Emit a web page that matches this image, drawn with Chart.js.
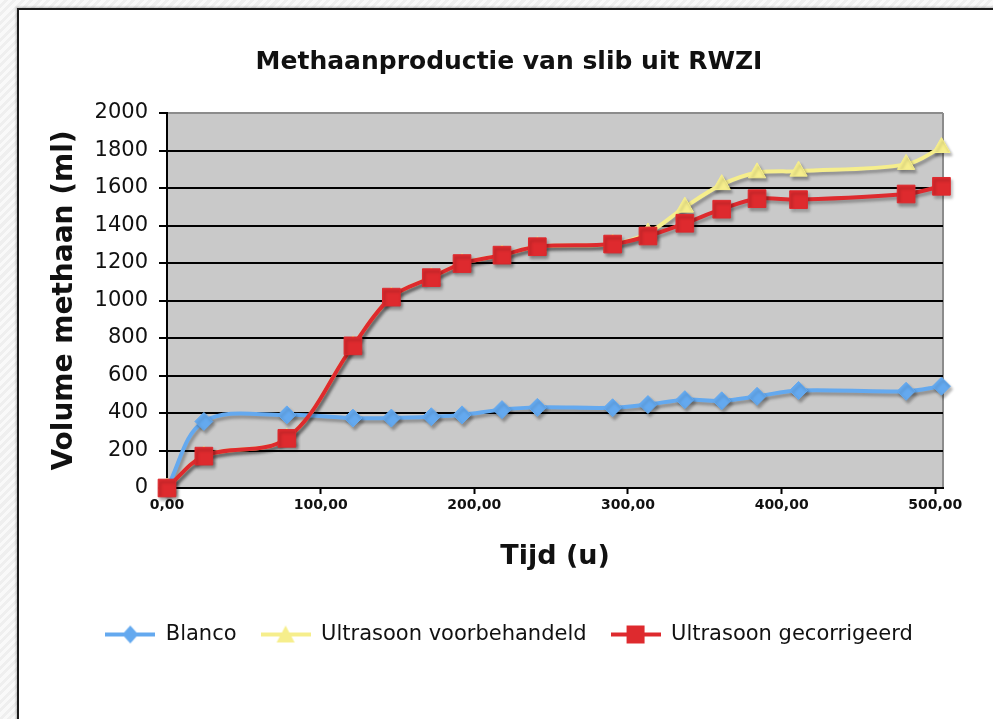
<!DOCTYPE html>
<html>
<head>
<meta charset="utf-8">
<title>Methaanproductie van slib uit RWZI</title>
<script src="https://cdn.jsdelivr.net/npm/chart.js"></script>
<style>
  html, body {
    margin: 0;
    padding: 0;
    width: 993px;
    height: 719px;
    overflow: hidden;
    background: repeating-linear-gradient(135deg, #f9f9f9 0 3px, #efefef 3px 6px);
  }
  .frame {
    position: absolute;
    left: 17px;
    top: 8px;
    width: 1000px;
    height: 800px;
    background: #fff;
    border: 2px solid #1c1c1c;
    box-shadow: -1px -1px 2px rgba(0,0,0,0.25);
  }
  #chart {
    position: absolute;
    left: 0;
    top: 0;
  }
</style>
</head>
<body>
<div class="frame"></div>
<canvas id="chart" width="993" height="719"></canvas>

<script>
// tijd in uren
const tijd = [0, 24, 78, 121, 146, 172, 192, 218, 241, 290, 313, 337, 361, 384, 411, 481, 504];

// volume methaan (ml)
const blanco = [0, 355, 390, 373, 373, 380, 390, 418, 430, 428, 445, 471, 465, 489, 520, 516, 543];
const voorbehandeld = [0, 170, 265, 758, 1018, 1122, 1197, 1242, 1287, 1301, 1360, 1498, 1618, 1681, 1690, 1726, 1816];
const gecorrigeerd = [0, 170, 265, 758, 1018, 1122, 1197, 1242, 1287, 1301, 1344, 1412, 1487, 1543, 1538, 1568, 1609];

const seriesNames = ['Blanco', 'Ultrasoon voorbehandeld', 'Ultrasoon gecorrigeerd'];
const xTicks = [0, 100, 200, 300, 400, 500];

const BLUE = '#64a9ef';
const YELLOW = '#f6ee8c';
const RED = '#de2a2e';

function toPoints(values) {
  return values.map((v, i) => ({ x: tijd[i], y: v }));
}

// kleine icoontjes voor de legenda: lijn met marker
function makeIcon(color, shape) {
  const c = document.createElement('canvas');
  c.width = 50;
  c.height = 22;
  const g = c.getContext('2d');
  g.strokeStyle = color;
  g.fillStyle = color;
  g.lineWidth = 4;
  g.beginPath();
  g.moveTo(0, 11);
  g.lineTo(50, 11);
  g.stroke();
  g.beginPath();
  if (shape === 'diamond') {
    g.moveTo(25, 2); g.lineTo(33, 11); g.lineTo(25, 20); g.lineTo(17, 11);
  } else if (shape === 'triangle') {
    g.moveTo(25, 2); g.lineTo(34, 19); g.lineTo(16, 19);
  } else {
    g.rect(16, 2, 18, 18);
  }
  g.closePath();
  g.fill();
  return c;
}

const legendIcons = [makeIcon(BLUE, 'diamond'), makeIcon(YELLOW, 'triangle'), makeIcon(RED, 'square')];

// grijze achtergrond van het plotgebied
const plotBackground = {
  id: 'plotBackground',
  beforeDraw(chart) {
    const { ctx, chartArea } = chart;
    ctx.save();
    ctx.fillStyle = '#c9c9c9';
    ctx.fillRect(chartArea.left, chartArea.top, chartArea.width, chartArea.height);
    ctx.strokeStyle = '#8c8c8c';
    ctx.lineWidth = 2;
    ctx.beginPath();
    ctx.moveTo(chartArea.right, chartArea.top);
    ctx.lineTo(chartArea.right, chartArea.bottom);
    ctx.stroke();
    ctx.restore();
  }
};

// schaduw onder lijnen en markers
const dropShadow = {
  id: 'dropShadow',
  beforeDatasetsDraw(chart) {
    const ctx = chart.ctx;
    ctx.save();
    ctx.shadowColor = 'rgba(0,0,0,0.3)';
    ctx.shadowOffsetX = 2;
    ctx.shadowOffsetY = 3;
    ctx.shadowBlur = 3;
  },
  afterDatasetsDraw(chart) {
    chart.ctx.restore();
  }
};

document.addEventListener('DOMContentLoaded', function() {
  const canvas = document.getElementById('chart');

  new Chart(canvas, {
    type: 'line',
    data: {
      datasets: [
        {
          label: seriesNames[0],
          data: toPoints(blanco),
          borderColor: BLUE,
          backgroundColor: BLUE,
          borderWidth: 4,
          pointStyle: 'rectRot',
          pointRadius: 9,
          pointBorderWidth: 1,
          clip: false,
          order: 1
        },
        {
          label: seriesNames[1],
          data: toPoints(voorbehandeld),
          borderColor: YELLOW,
          backgroundColor: YELLOW,
          borderWidth: 4,
          pointStyle: 'triangle',
          pointRadius: 10,
          pointBorderWidth: 1,
          clip: false,
          order: 2
        },
        {
          label: seriesNames[2],
          data: toPoints(gecorrigeerd),
          borderColor: RED,
          backgroundColor: RED,
          borderWidth: 4,
          pointStyle: 'rect',
          pointRadius: 12.5,
          pointBorderWidth: 1,
          clip: false,
          order: 0
        }
      ]
    },
    options: {
      responsive: false,
      animation: false,
      devicePixelRatio: 1,
      tension: 0.35,
      layout: {
        padding: { left: 75, right: 50, top: 47, bottom: 64 }
      },
      scales: {
        x: {
          type: 'linear',
          min: 0,
          max: 505,
          afterBuildTicks(scale) {
            scale.ticks = xTicks.map(v => ({ value: v }));
          },
          afterFit(scale) {
            scale.height = 112;
          },
          grid: {
            drawOnChartArea: false,
            tickLength: 6,
            tickColor: '#000',
            tickWidth: 2
          },
          border: { color: '#000', width: 2 },
          ticks: {
            padding: 3,
            color: '#111',
            font: { family: 'DejaVu Sans', size: 14, weight: 'bold' },
            maxRotation: 0,
            callback: v => v.toFixed(2).replace('.', ',')
          },
          title: {
            display: true,
            text: 'Tijd (u)',
            color: '#111',
            font: { family: 'DejaVu Sans', size: 27, weight: 'bold' },
            padding: { top: 0, bottom: 27 }
          }
        },
        y: {
          min: 0,
          max: 2000,
          afterFit(scale) {
            scale.width = 92;
          },
          grid: {
            color: ctx => (ctx.tick && ctx.tick.value === 2000 ? '#8c8c8c' : '#000'),
            lineWidth: 2,
            tickLength: 8,
            tickColor: '#000'
          },
          border: { color: '#000', width: 2 },
          ticks: {
            stepSize: 200,
            padding: 11,
            color: '#111',
            font: { family: 'DejaVu Sans', size: 21 },
            callback: v => String(v)
          },
          title: {
            display: true,
            text: 'Volume methaan (ml)',
            color: '#111',
            font: { family: 'DejaVu Sans', size: 28, weight: 'bold' },
            padding: { top: -27, bottom: 0 }
          }
        }
      },
      plugins: {
        title: {
          display: true,
          text: 'Methaanproductie van slib uit RWZI',
          color: '#111',
          font: { family: 'DejaVu Sans', size: 25, weight: 'bold' },
          padding: { top: 0, bottom: 36 }
        },
        legend: {
          position: 'bottom',
          labels: {
            usePointStyle: true,
            pointStyleWidth: 50,
            padding: 24,
            color: '#111',
            font: { family: 'DejaVu Sans', size: 21 },
            generateLabels(chart) {
              const items = Chart.defaults.plugins.legend.labels.generateLabels(chart);
              items.forEach(it => { it.pointStyle = legendIcons[it.datasetIndex]; });
              return items;
            },
            sort: (a, b) => a.datasetIndex - b.datasetIndex
          }
        },
        tooltip: { enabled: false }
      }
    },
    plugins: [plotBackground, dropShadow]
  });
});
</script>
</body>
</html>
